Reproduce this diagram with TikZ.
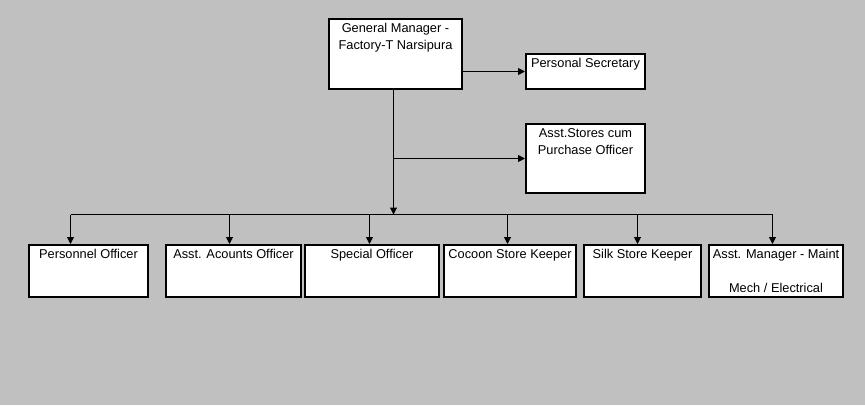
\documentclass[tikz,border=0pt]{standalone}
\usepackage{fontspec}
\setmainfont{Liberation Sans}
\usetikzlibrary{arrows.meta}
\begin{document}
\begin{tikzpicture}[x=1pt,y=-1pt,
  box/.style={draw=black,fill=white,line width=2pt,rectangle,anchor=north west,inner sep=0pt},
  lbl/.style={anchor=north,inner sep=0pt,align=center,font=\fontsize{12.8}{17}\selectfont,yshift=-5.5pt},
  conn/.style={draw=black,line width=1pt},
  arr/.style={conn,-{Triangle[length=7pt,width=7pt]}}]
\fill[fill={rgb,255:red,192;green,192;blue,192}] (0,0) rectangle (865,405);
\useasboundingbox (0,0) rectangle (865,405);
% top boxes
\node[box,minimum width=133pt,minimum height=70pt,label={[lbl]north:General Manager -\\Factory-T Narsipura}] (gm) at (328,18) {};
\node[box,minimum width=119pt,minimum height=35pt,label={[lbl]north:Personal Secretary}] (ps) at (525,53) {};
\node[box,minimum width=119pt,minimum height=69pt,label={[lbl]north:Asst.Stores cum\\Purchase Officer}] (as) at (525,123) {};
% bottom row
\node[box,minimum width=119pt,minimum height=52pt,label={[lbl]north:Personnel Officer}] (b1) at (28,244) {};
\node[box,minimum width=135pt,minimum height=52pt,label={[lbl]north:Asst. Acounts Officer}] (b2) at (165,244) {};
\node[box,minimum width=134pt,minimum height=52pt,label={[lbl]north:Special Officer}] (b3) at (304,244) {};
\node[box,minimum width=132pt,minimum height=52pt,label={[lbl]north:Cocoon Store Keeper}] (b4) at (443,244) {};
\node[box,minimum width=117pt,minimum height=52pt,label={[lbl]north:Silk Store Keeper}] (b5) at (583,244) {};
\node[box,minimum width=134pt,minimum height=52pt,label={[lbl,yshift=0.5pt]north:Asst. Manager - Maint\\[0pt]\\Mech / Electrical}] (b6) at (708,244) {};
% bus coordinates
\coordinate (trunk) at (393.5,214.5);
\coordinate (d1) at (70.5,214.5);
\coordinate (d2) at (229.5,214.5);
\coordinate (d3) at (369.5,214.5);
\coordinate (d4) at (507.5,214.5);
\coordinate (d5) at (637.5,214.5);
\coordinate (d6) at (772.5,214.5);
% connectors
\draw[arr] (gm.east |- ps.west) -- (ps.west);
\draw[arr] (trunk |- gm.south) -- (trunk);
\draw[arr] (trunk |- as.west) -- (as.west);
\draw[conn] (d1) -- (d6);
\draw[arr] (d1) -- (d1 |- b1.north);
\draw[arr] (d2) -- (d2 |- b2.north);
\draw[arr] (d3) -- (d3 |- b3.north);
\draw[arr] (d4) -- (d4 |- b4.north);
\draw[arr] (d5) -- (d5 |- b5.north);
\draw[arr] (d6) -- (d6 |- b6.north);
\end{tikzpicture}
\end{document}
